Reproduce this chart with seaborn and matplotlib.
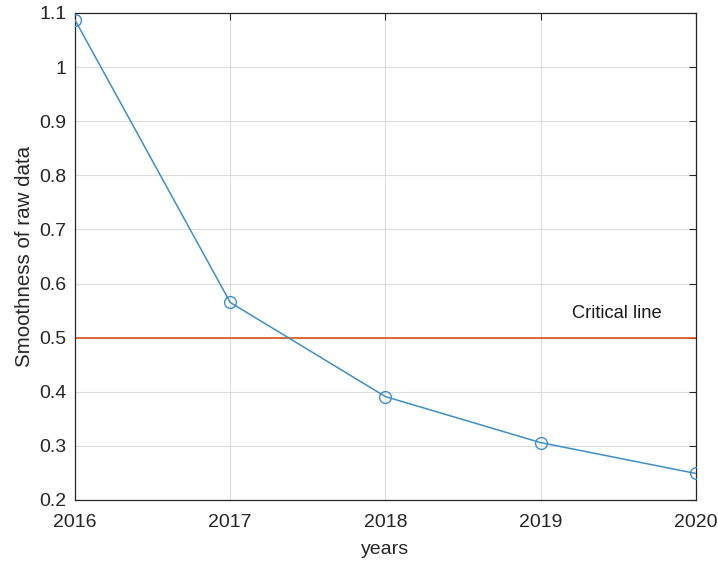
import matplotlib
matplotlib.use("Agg")
import matplotlib.pyplot as plt
import seaborn as sns
import pandas as pd

years = [2016, 2017, 2018, 2019, 2020]
smoothness = [1.087, 0.565, 0.391, 0.306, 0.249]
critical_value = 0.5
x_ticks = [2016, 2017, 2018, 2019, 2020]
y_ticks = [0.2, 0.3, 0.4, 0.5, 0.6, 0.7, 0.8, 0.9, 1.0, 1.1]
y_tick_labels = ["0.2", "0.3", "0.4", "0.5", "0.6", "0.7", "0.8", "0.9", "1", "1.1"]

sns.set_style("white")
plt.rcParams["font.family"] = ["Liberation Sans", "DejaVu Sans"]

df = pd.DataFrame({"years": years, "smoothness": smoothness})

fig = plt.figure(figsize=(7.18, 5.63), dpi=100)
ax = fig.add_axes([0.1045, 0.112, 0.8645, 0.865])

blue = "#3d8fc6"
orange = "#d95319"

sns.lineplot(data=df, x="years", y="smoothness", ax=ax, color=blue, lw=1.1,
             marker="o", markersize=8.5, markerfacecolor="none",
             markeredgecolor=blue, markeredgewidth=1.0, zorder=3)
ax.axhline(critical_value, color=orange, lw=1.2, zorder=2)
ax.text(2019.49, 0.545, "Critical line", ha="center", va="center",
        fontsize=13.2, color="#1a1a1a")

ax.set_xlim(2016, 2020)
ax.set_ylim(0.2, 1.1)
ax.set_xticks(x_ticks)
ax.set_xticklabels([str(v) for v in x_ticks])
ax.set_yticks(y_ticks)
ax.set_yticklabels(y_tick_labels)
ax.grid(True, color="#dcdcdc", lw=0.8)
ax.set_axisbelow(True)

for s in ax.spines.values():
    s.set_visible(True)
    s.set_color("#262626")
    s.set_linewidth(0.9)

ax.tick_params(direction="in", length=5, width=0.8, colors="#262626",
               labelsize=14, top=True, right=True, labelcolor="#262626")
ax.tick_params(axis="x", pad=10)
ax.tick_params(axis="y", pad=6)
ax.set_xlabel("years", fontsize=14, color="#262626", labelpad=7)
ax.set_ylabel("Smoothness of raw data", fontsize=14.8, color="#262626", labelpad=4)

fig.savefig("out.png", dpi=100)
